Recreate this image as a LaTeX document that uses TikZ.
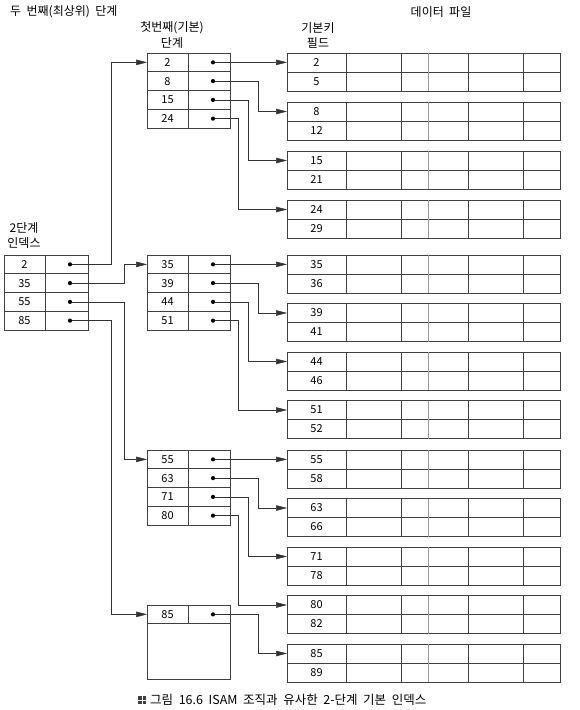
\documentclass[tikz,border=0pt]{standalone}
\usepackage{fontspec}
\setmainfont[WordSpace=2]{Noto Sans CJK KR}
\usetikzlibrary{arrows.meta,positioning}

\begin{document}
\begin{tikzpicture}[
    x=1pt, y=-1pt,
    font=\fontsize{11}{13}\selectfont,
    line/.style={draw=black!75, line width=0.6pt},
    keycell/.style={line, minimum width=41pt, minimum height=18.75pt, inner sep=0pt, outer sep=0pt},
    ptrcell/.style={line, minimum width=42pt, minimum height=18.75pt, inner sep=0pt, outer sep=0pt},
    reckey/.style={line, minimum width=59pt, minimum height=19pt, inner sep=0pt, outer sep=0pt},
    dot/.style={circle, fill=black, inner sep=0pt, minimum size=4.2pt},
    ptr/.style={draw=black!80, line width=0.5pt, -{Triangle[length=11pt,width=5.5pt]}},
    head/.style={font=\fontsize{12}{15.5}\selectfont, align=center, inner sep=0pt}
  ]
    \useasboundingbox (0,0) rectangle (579,710);

    % headings
    \node[head, anchor=west] (h-top) at (10,12) {두 번째(최상위) 단계};
    \node[head] (h-first) at (172,35) {첫번째(기본)\\단계};
    \node[head] (h-key) at (318,35.5) {기본키\\필드};
    \node[head] (h-data) at (441,12) {데이터 파일};
    \node[head] (h-second) at (24,235.5) {2단계\\인덱스};

    % second level index
    \foreach \k [count=\i] in {2,35,55,85} {
      \node[keycell, anchor=north west] (ik\i) at (4,{255+(\i-1)*18.75}) {\k};
      \node[ptrcell, minimum width=43pt, anchor=west] (ip\i) at (ik\i.east) {};
      \node[dot, xshift=3.5pt] (id\i) at (ip\i) {};
    }

    % first level blocks
    \foreach \b/\top/\keys in {1/53/{2,8,15,24}, 2/255/{35,39,44,51}, 3/450/{55,63,71,80}, 4/605/{85}} {
      \foreach \k [count=\r] in \keys {
        \node[keycell, anchor=north west] (b\b-k\r) at (147,{\top+(\r-1)*18.75}) {\k};
        \node[ptrcell, anchor=west] (b\b-p\r) at (b\b-k\r.east) {};
        \node[dot, xshift=4pt] (b\b-d\r) at (b\b-p\r) {};
      }
    }
    \node[line, minimum width=83pt, minimum height=56pt, inner sep=0pt, outer sep=0pt, anchor=north west] (b4-rest) at (b4-k1.south west) {};

    % data file
    \foreach \n/\top/\ka/\kb in {1/53/2/5, 2/102/8/12, 3/151/15/21, 4/200/24/29,
        5/255/35/36, 6/303.5/39/41, 7/352/44/46, 8/400.5/51/52,
        9/450/55/58, 10/498.5/63/66, 11/547/71/78, 12/595.5/80/82, 13/644/85/89} {
      \node[reckey, anchor=north west] (d\n-a) at (287,\top) {\ka};
      \node[reckey, anchor=north] (d\n-b) at (d\n-a.south) {\kb};
      \draw[line] (d\n-a.north east) rectangle (560,{\top+38});
      \draw[line] (d\n-a.south east) -- (560,{\top+19});
      \foreach \c in {401,468,523}
        \draw[line] (\c,\top) -- (\c,{\top+38});
      \draw[line, draw=black!40] (428,\top) -- (428,{\top+38});
    }

    % pointers to data blocks
    \foreach \b/\n in {1/1, 2/5, 3/9}
      \draw[ptr] (b\b-d1) -- (b\b-d1 -| d\n-a.west);
    \foreach \b/\r/\n/\s in {1/2/2/29, 1/3/3/39, 1/4/4/49,
        2/2/6/29, 2/3/7/39, 2/4/8/49,
        3/2/10/29, 3/3/11/39, 3/4/12/49, 4/1/13/29}
      \draw[ptr] (b\b-d\r) -| ([xshift=-\s pt]d\n-a.west) -- (d\n-a.west);

    % pointers to first level
    \foreach \i/\s in {1/36, 2/23, 3/23, 4/36}
      \draw[ptr] (id\i) -| ([xshift=-\s pt]b\i-k1.west) -- (b\i-k1.west);

    % caption
    \node[font=\fontsize{12.5}{14}\selectfont, anchor=west, inner sep=0pt] (cap) at (150,700) {그림 16.6 ISAM 조직과 유사한 2-단계 기본 인덱스};
    \foreach \u/\v in {0/0, 4.5/0, 0/4.5, 4.5/4.5}
      \fill[black!75] ([xshift=-12pt+\u pt, yshift=4pt-\v pt]cap.west) rectangle +(3.5pt,-3.5pt);
  \end{tikzpicture}
\end{document}
